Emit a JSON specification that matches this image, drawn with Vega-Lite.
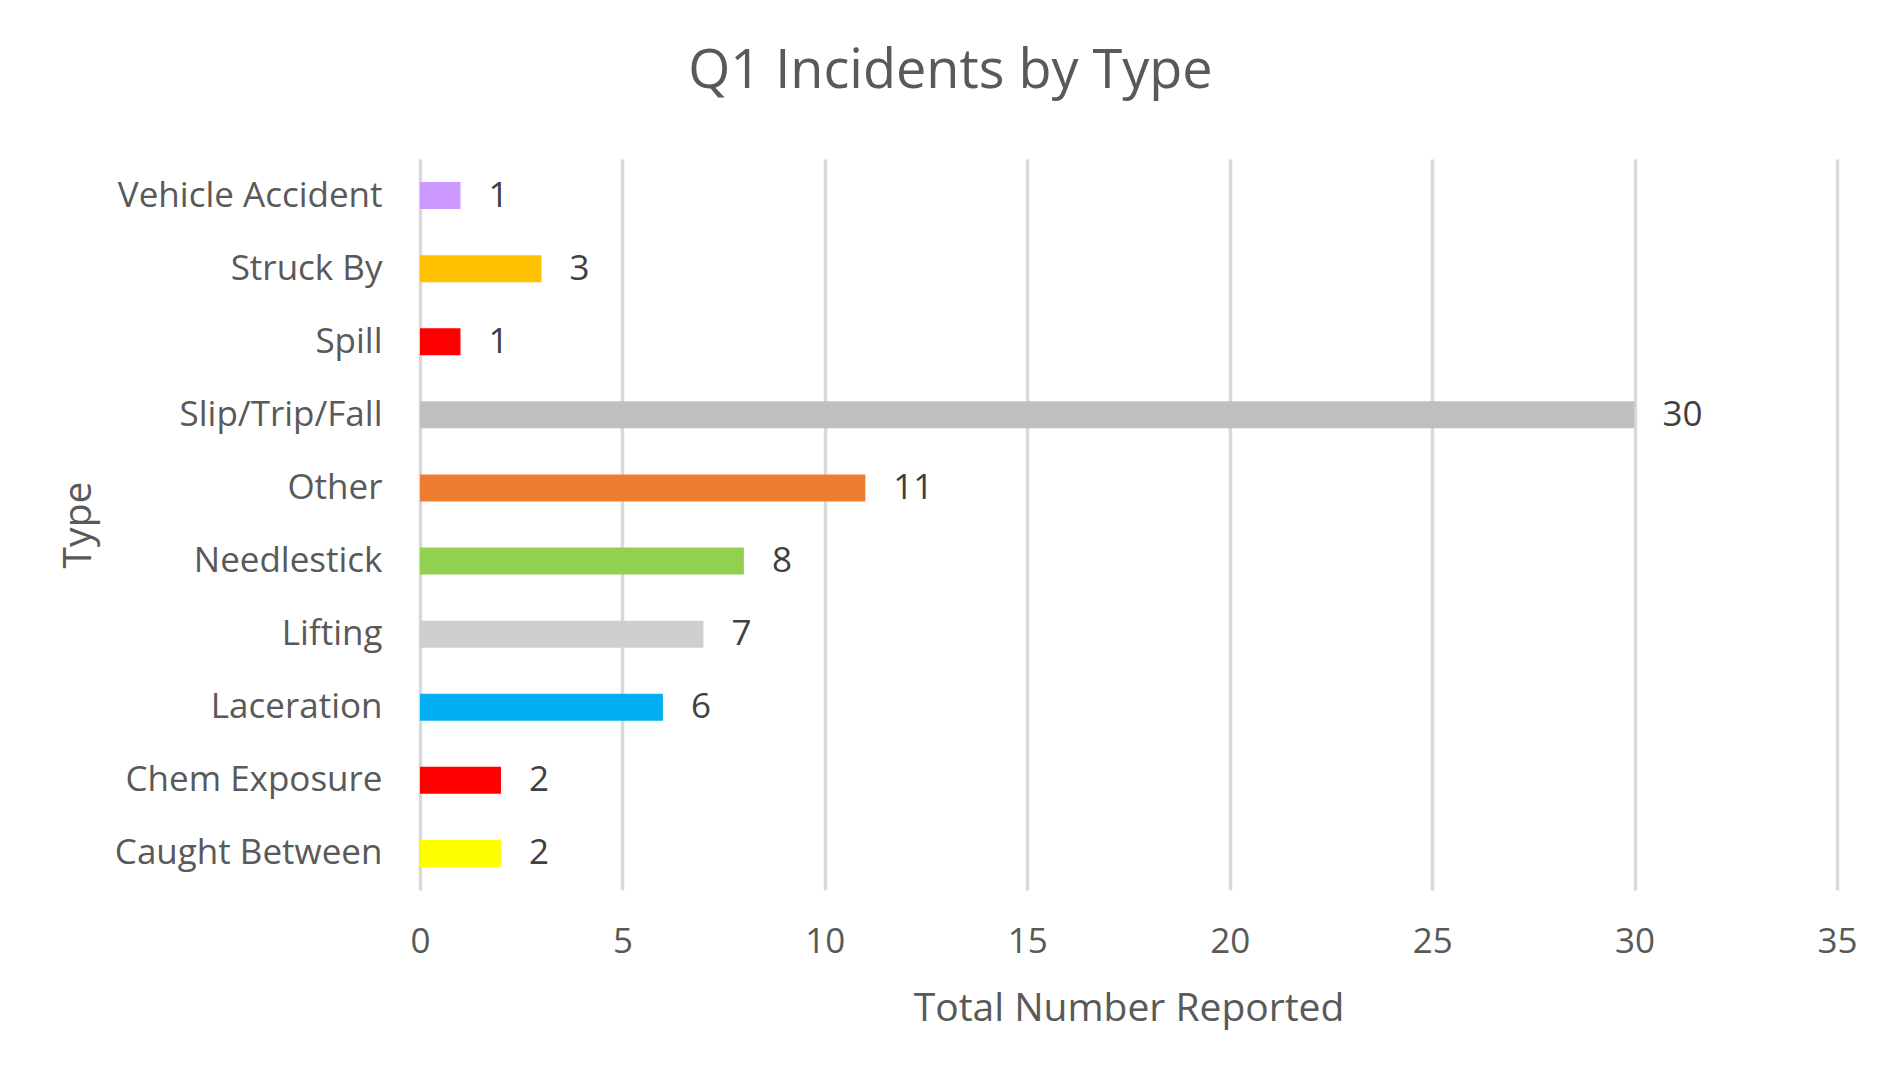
{
  "$schema": "https://vega.github.io/schema/vega-lite/v6.json",
  "autosize": "none",
  "width": 1417,
  "height": 731,
  "padding": {"left": 420, "top": 159, "right": 63, "bottom": 185},
  "background": "white",
  "config": {
    "view": {"stroke": null},
    "font": "Open Sans"
  },
  "title": {
    "text": "Q1 Incidents by Type",
    "fontSize": 54,
    "font": "Open Sans",
    "fontWeight": "normal",
    "color": "#595959",
    "anchor": "middle",
    "dx": -178,
    "offset": 60
  },
  "data": {
    "values": [
      {"type": "Vehicle Accident", "count": 1},
      {"type": "Struck By", "count": 3},
      {"type": "Spill", "count": 1},
      {"type": "Slip/Trip/Fall", "count": 30},
      {"type": "Other", "count": 11},
      {"type": "Needlestick", "count": 8},
      {"type": "Lifting", "count": 7},
      {"type": "Laceration", "count": 6},
      {"type": "Chem Exposure", "count": 2},
      {"type": "Caught Between", "count": 2}
    ]
  },
  "encoding": {
    "y": {
      "field": "type",
      "type": "nominal",
      "sort": null,
      "scale": {"paddingInner": 0.63, "paddingOuter": 0.315},
      "axis": {
        "title": "Type",
        "titleFontSize": 39,
        "titleFontWeight": "normal",
        "titleColor": "#595959",
        "titleX": -330,
        "titleY": 365.5,
        "titleAngle": -90,
        "titleAlign": "center",
        "titleBaseline": "alphabetic",
        "labelFontSize": 35,
        "labelColor": "#595959",
        "labelPadding": 38,
        "labelLimit": 0,
        "ticks": false,
        "domain": false,
        "grid": false
      }
    },
    "x": {
      "field": "count",
      "type": "quantitative",
      "scale": {"domain": [0, 35], "nice": false},
      "axis": {
        "title": "Total Number Reported",
        "titleFontSize": 39,
        "titleFontWeight": "normal",
        "titleColor": "#595959",
        "titlePadding": 30,
        "labelFontSize": 35,
        "labelColor": "#595959",
        "labelPadding": 34,
        "labelFlush": false,
        "labelOverlap": false,
        "values": [0, 5, 10, 15, 20, 25, 30, 35],
        "ticks": false,
        "domain": false,
        "grid": true,
        "gridColor": "#d9d9d9",
        "gridWidth": 3.5
      }
    }
  },
  "layer": [
    {
      "mark": {"type": "bar"},
      "encoding": {
        "color": {
          "field": "type",
          "type": "nominal",
          "legend": null,
          "scale": {
            "domain": ["Vehicle Accident", "Struck By", "Spill", "Slip/Trip/Fall", "Other", "Needlestick", "Lifting", "Laceration", "Chem Exposure", "Caught Between"],
            "range": ["#CC99FF", "#FFC000", "#FF0000", "#BFBFBF", "#ED7D31", "#92D050", "#D0CECE", "#00B0F0", "#FF0000", "#FFFF00"]
          }
        }
      }
    },
    {
      "mark": {"type": "text", "align": "left", "baseline": "middle", "dx": 28, "fontSize": 35, "color": "#404040", "font": "Open Sans"},
      "encoding": {
        "text": {"field": "count", "type": "quantitative"}
      }
    }
  ]
}
